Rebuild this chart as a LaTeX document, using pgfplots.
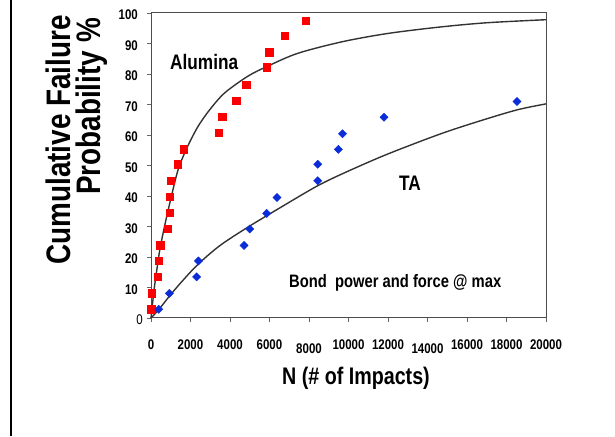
\documentclass[border=0pt]{standalone}
\usepackage{pgfplots}
\pgfplotsset{compat=1.18}
\usepackage{graphicx}
\usepackage{fontspec}
\setmainfont{Liberation Sans}
\newcommand{\nar}[1]{\scalebox{0.82}[1]{#1}}
\definecolor{redsq}{RGB}{250,0,0}
\definecolor{bluedi}{RGB}{10,45,215}
\begin{document}
\begin{tikzpicture}[x=1pt,y=1pt]
\useasboundingbox (0,0) rectangle (615,436);
\draw[line width=2pt] (10.5,0) -- (10.5,436);
\begin{axis}[at={(151pt,118pt)}, anchor=south west, scale only axis,
  width=395pt, height=305pt,
  xmin=0, xmax=20000, ymin=0, ymax=100,
  clip=false,
  xtick={0,2000,...,20000}, ytick={0,10,...,100},
  scaled x ticks=false,
  xticklabels={\nar{0},\nar{2000},\nar{4000},\nar{6000},\nar{\raisebox{-3pt}{8000}},\nar{10000},\nar{12000},\nar{\raisebox{-3pt}{14000}},\nar{16000},\nar{18000},\nar{20000}},
  yticklabels={\nar{\mdseries 0}\hspace*{-5pt},\nar{10},\nar{20},\nar{30},\nar{40},\nar{50},\nar{60},\nar{70},\nar{80},\nar{90},\nar{100}},
  xticklabel style={font=\fontsize{14}{14}\selectfont\bfseries, anchor=base, inner sep=0pt, yshift=-28pt},
  yticklabel style={font=\fontsize{14}{14}\selectfont\bfseries, anchor=east, inner sep=0pt, xshift=-9pt, yshift=-2pt},
  tick align=outside, xtick pos=bottom, ytick pos=left, major tick length=4pt,
  axis line style={draw=black!70, line width=1pt},
  tick style={draw=black!60, line width=0.8pt},
]
% Alumina fitted curve
\addplot[smooth, no marks, line width=1.4pt, black!80] coordinates {
(0,0) (150,9) (300,16) (450,22.5) (700,30.5) (1000,39) (1367,48.5) (1800,55.5)
(2380,62.8) (3000,68.5) (3730,73.8) (4910,79.3) (5920,82.6) (7440,86.8)
(9700,90.6) (12000,93.3) (14630,95.4) (17000,96.8) (20000,97.8)};
% TA fitted curve
\addplot[smooth, no marks, line width=1.4pt, black!80] coordinates {
(0,0) (400,2.8) (900,6.9) (1500,11.5) (2380,17.6) (3500,23.8) (4910,29.8)
(6600,36.4) (8450,43.4) (10000,48.2) (12000,53.8) (14630,60.3) (16500,64.3)
(18510,68.2) (20000,70.2)};
% Alumina data
\addplot[only marks, mark=square*, mark size=3.7pt, mark options={draw=redsq, fill=redsq}] coordinates {
(0,2.85) (30,8.1) (340,13.5) (390,18.7) (470,23.9) (840,29.2) (945,34.5) (945,39.8)
(1010,45) (1350,50.4) (1670,55.3) (3430,60.8) (3600,66) (4320,71.2) (4810,76.5)
(5860,82.2) (5990,87.1) (6770,92.5) (7830,97.5)};
% TA data
\addplot[only marks, mark=square*, mark size=2.9pt, mark options={rotate=45, draw=bluedi, fill=bluedi}] coordinates {
(390,2.85) (930,8.1) (2310,13.5) (2400,18.7) (4710,23.8) (5000,29.2) (5860,34.3)
(6380,39.5) (8440,45) (8440,50.4) (9490,55.3) (9700,60.4) (11800,65.8) (18530,71)};
\end{axis}
\node[anchor=base west, inner sep=0pt, font=\fontsize{21}{21}\selectfont\bfseries] at (170,366) {\nar{Alumina}};
\node[anchor=base west, inner sep=0pt, font=\fontsize{21}{21}\selectfont\bfseries] at (399,245.3) {\nar{TA}};
\node[anchor=base west, inner sep=0pt, font=\fontsize{18}{18}\selectfont\bfseries] at (289,148.7) {\nar{Bond\ \ power and force @ max}};
\node[anchor=base, inner sep=0pt, font=\fontsize{24}{24}\selectfont\bfseries] at (356,51) {\nar{N (\# of Impacts)}};
\node[rotate=90, anchor=base east, inner sep=0pt, font=\fontsize{34}{34}\selectfont\bfseries] at (70,421) {\nar{Cumulative Failure}};
\node[rotate=90, anchor=base east, inner sep=0pt, font=\fontsize{34}{34}\selectfont\bfseries] at (100,418) {\nar{Probability \%}};
\end{tikzpicture}
\end{document}
